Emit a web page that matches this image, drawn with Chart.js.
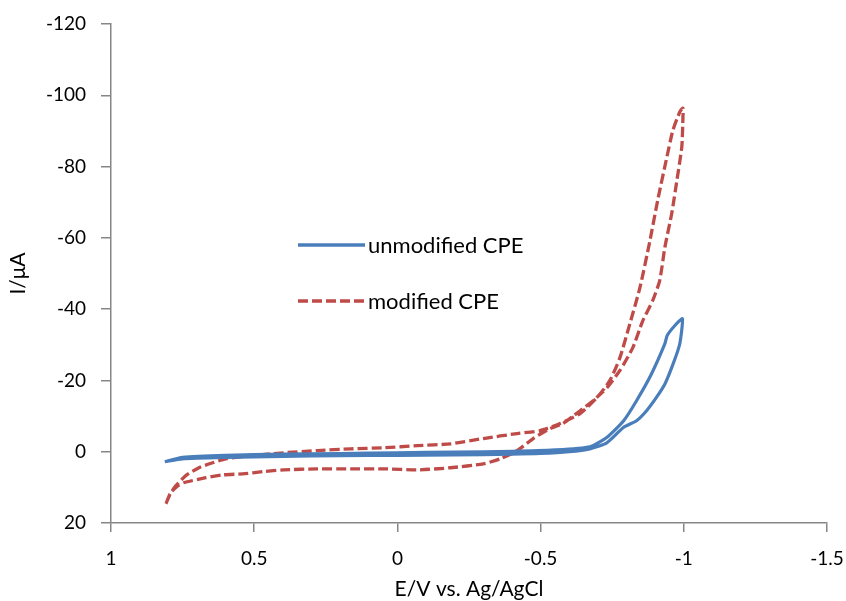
<!DOCTYPE html>
<html><head><meta charset="utf-8">
<script src="https://cdn.jsdelivr.net/npm/chart.js@4"></script>
<style>html,body{margin:0;padding:0;background:#fff}#wrap{width:846px;height:601px}</style>
</head><body><div id="wrap"><canvas id="c" width="846" height="601"></canvas></div>
<script>
const seriesNames = ['unmodified CPE', 'modified CPE'];
const xTitle = 'E/V vs. Ag/AgCl';
const yTitle = 'I/μA';
const xTicks = [1, 0.5, 0, -0.5, -1, -1.5];
const xTickLabels = ['1', '0.5', '0', '-0.5', '-1', '-1.5'];
const yTicks = [-120, -100, -80, -60, -40, -20, 0, 20];
const yTickLabels = ['-120', '-100', '-80', '-60', '-40', '-20', '0', '20'];

const unmodE = [0.812, 0.75, 0.6, 0.4, 0.2, 0, -0.2, -0.4, -0.5, -0.6, -0.672, -0.731, -0.789, -0.835, -0.870, -0.905, -0.934, -0.963, -0.986, -0.995,
  -0.969, -0.942, -0.934, -0.887, -0.835, -0.79, -0.731, -0.672, -0.55, -0.4, -0.2, 0, 0.2, 0.4, 0.6, 0.75, 0.812];
const unmodI = [2.8, 2.0, 1.6, 1.3, 1.1, 1.0, 0.9, 0.7, 0.5, 0, -0.8, -2.5, -6.8, -8.7, -11.5, -15.3, -19.0, -24.7, -30.3, -37.3,
  -35.4, -32.6, -30.3, -21.8, -14.3, -8.7, -4.0, -1.4, -0.5, -0.1, 0.1, 0.3, 0.5, 0.7, 1.0, 1.6, 2.8];

const modE = [0.808, 0.791, 0.767, 0.746, 0.669, 0.610, 0.540, 0.470, 0.397, 0.279, 0.164, 0.049, -0.070, -0.185, -0.300, -0.359, -0.418, -0.474, -0.533, -0.578,
  -0.638, -0.683, -0.732, -0.777, -0.822, -0.857, -0.892, -0.916, -0.934, -0.958, -0.976, -0.993, -0.997, -0.997,
  -0.986, -0.962, -0.941, -0.909, -0.882, -0.847, -0.812, -0.777, -0.742, -0.697, -0.638, -0.568, -0.498, -0.418, -0.300, -0.185, -0.070,
  0.049, 0.164, 0.279, 0.397, 0.512, 0.599, 0.645, 0.693, 0.739, 0.774, 0.795, 0.808];
const modI = [14.6, 11.5, 9.6, 8.7, 7.3, 6.5, 6.2, 5.6, 5.1, 4.8, 4.8, 4.8, 5.1, 4.5, 3.4, 2.0, -0.3, -3.7, -6.5, -7.9,
  -11.5, -14.3, -18.0, -22.8, -29.2, -36.8, -42.5, -48.1, -57.4, -66.9, -76.2, -85.5, -93.9, -96.4,
  -95.3, -90.2, -82.7, -70.6, -59.3, -46.1, -36.0, -26.4, -20.0, -15.2, -10.7, -7.9, -5.9, -5.1, -3.7, -2.2, -1.7,
  -1.1, -0.8, -0.3, 0.3, 1.1, 2.0, 3.1, 4.5, 6.7, 9.6, 12.0, 14.6];

const BLUE = '#4a7ebb', RED = '#be4b48', AXIS = '#868686';
const FONT = 'Lato';

function pts(xs, ys) { return xs.map((x, i) => ({x: x, y: ys[i]})); }

const legendPlugin = {
  id: 'customLegend',
  afterDraw(chart) {
    const ctx = chart.ctx, ca = chart.chartArea;
    const x0 = ca.left + 187, x1 = ca.left + 254;
    const rows = [
      {y: ca.top + 221, color: BLUE, dash: [], text: seriesNames[0]},
      {y: ca.top + 277, color: RED, dash: [10, 4], text: seriesNames[1]}
    ];
    ctx.save();
    rows.forEach(r => {
      ctx.beginPath();
      ctx.setLineDash(r.dash);
      ctx.strokeStyle = r.color;
      ctx.lineWidth = 3.3;
      ctx.moveTo(x0, r.y);
      ctx.lineTo(x1, r.y);
      ctx.stroke();
      ctx.setLineDash([]);
      ctx.fillStyle = '#000';
      ctx.font = '22px ' + FONT;
      ctx.textBaseline = 'middle';
      ctx.textAlign = 'left';
      ctx.fillText(r.text, x1 + 3, r.y + 1);
    });
    ctx.restore();
  }
};

new Chart(document.getElementById('c'), {
  type: 'scatter',
  data: {
    datasets: [
      {label: seriesNames[0], data: pts(unmodE, unmodI), showLine: true, borderColor: BLUE, borderWidth: 3.2,
        pointRadius: 0, tension: 0.2, fill: false},
      {label: seriesNames[1], data: pts(modE, modI), showLine: true, borderColor: RED, borderWidth: 3.3,
        borderDash: [10, 4], pointRadius: 0, tension: 0.2, fill: false}
    ]
  },
  options: {
    responsive: false,
    animation: false,
    devicePixelRatio: 1,
    layout: {padding: {top: 24, right: 19, left: 0, bottom: 0}},
    plugins: {legend: {display: false}, tooltip: {enabled: false}},
    scales: {
      x: {
        type: 'linear', reverse: true, min: -1.5, max: 1,
        afterFit(s) { s.height = 78; s.paddingLeft = 0; s.paddingRight = 0; },
        afterBuildTicks(s) { s.ticks = xTicks.map(v => ({value: v})); },
        border: {color: AXIS, width: 1.5},
        grid: {display: true, drawOnChartArea: false, drawTicks: true, tickLength: 9, color: AXIS, lineWidth: 1.5},
        ticks: {color: '#000', font: {family: FONT, size: 19}, padding: 15,
          callback: (v) => xTickLabels[xTicks.indexOf(v)] ?? ''},
        title: {display: true, text: xTitle, color: '#000', font: {family: FONT, size: 21, lineHeight: 1}, padding: {top: 0, bottom: 1}}
      },
      y: {
        type: 'linear', reverse: true, min: -120, max: 20,
        afterFit(s) { s.width = 111; s.paddingTop = 0; s.paddingBottom = 0; },
        afterBuildTicks(s) { s.ticks = yTicks.map(v => ({value: v})); },
        border: {color: AXIS, width: 1.5},
        grid: {display: true, drawOnChartArea: false, drawTicks: true, tickLength: 10, color: AXIS, lineWidth: 1.5},
        ticks: {color: '#000', font: {family: FONT, size: 19}, padding: 15,
          callback: (v) => yTickLabels[yTicks.indexOf(v)] ?? ''},
        title: {display: true, text: yTitle, color: '#000', font: {family: FONT, size: 21, lineHeight: 1}, padding: {top: 8, bottom: 0}}
      }
    }
  },
  plugins: [legendPlugin]
});
</script>
</body></html>
